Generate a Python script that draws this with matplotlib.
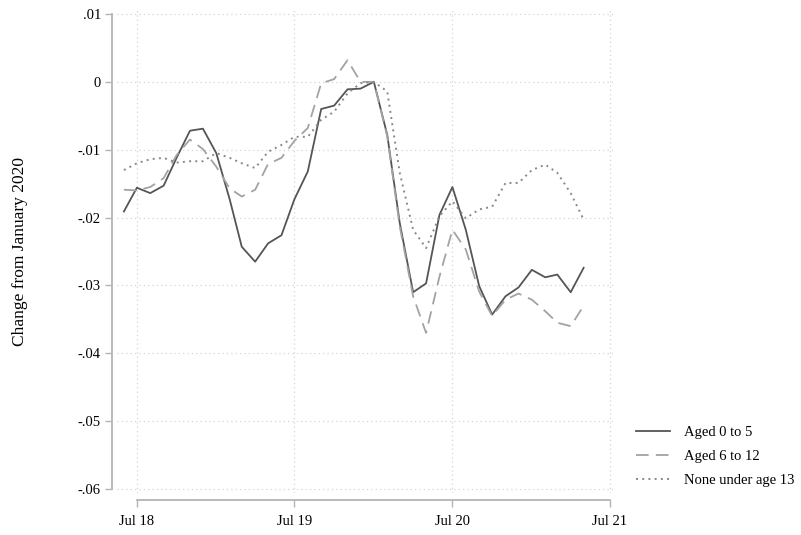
import matplotlib
matplotlib.use("Agg")
import matplotlib.pyplot as plt
import matplotlib.dates as mdates
import pandas as pd
import numpy as np

# Monthly series, June 2018 - May 2021, change relative to January 2020
months = pd.date_range("2018-06-01", periods=36, freq="MS")

aged_0_5 = [
    -0.0191, -0.0156, -0.0164, -0.0153, -0.0112, -0.0072, -0.0069,
    -0.0105, -0.0173, -0.0243, -0.0265, -0.0238, -0.0226, -0.0173,
    -0.0132, -0.0040, -0.0035, -0.0011, -0.0010, 0.0000, -0.0078,
    -0.0208, -0.0310, -0.0297, -0.0196, -0.0155, -0.0218, -0.0301,
    -0.0343, -0.0316, -0.0303, -0.0277, -0.0288, -0.0284, -0.0310,
    -0.0274,
]
aged_6_12 = [
    -0.0159, -0.0160, -0.0155, -0.0142, -0.0108, -0.0085, -0.0099,
    -0.0125, -0.0157, -0.0169, -0.0159, -0.0121, -0.0112, -0.0087,
    -0.0068, -0.0002, 0.0004, 0.0032, 0.0000, 0.0000, -0.0080,
    -0.0213, -0.0316, -0.0370, -0.0287, -0.0218, -0.0247, -0.0309,
    -0.0345, -0.0321, -0.0312, -0.0321, -0.0338, -0.0355, -0.0360,
    -0.0330,
]
none_under_13 = [
    -0.0130, -0.0120, -0.0114, -0.0112, -0.0119, -0.0117, -0.0117,
    -0.0105, -0.0112, -0.0120, -0.0127, -0.0103, -0.0093, -0.0081,
    -0.0081, -0.0056, -0.0044, -0.0017, -0.0002, 0.0000, -0.0014,
    -0.0134, -0.0218, -0.0245, -0.0198, -0.0176, -0.0201, -0.0188,
    -0.0184, -0.0149, -0.0149, -0.0130, -0.0122, -0.0134, -0.0164,
    -0.0203,
]

series_labels = ["Aged 0 to 5", "Aged 6 to 12", "None under age 13"]
y_ticks = [0.01, 0.0, -0.01, -0.02, -0.03, -0.04, -0.05, -0.06]
y_tick_labels = [".01", "0", "-.01", "-.02", "-.03", "-.04", "-.05", "-.06"]
x_ticks = pd.to_datetime(["2018-07-01", "2019-07-01", "2020-07-01", "2021-07-01"])
x_tick_labels = ["Jul 18", "Jul 19", "Jul 20", "Jul 21"]

plt.rcParams["font.family"] = ["Liberation Serif", "DejaVu Serif"]

fig = plt.figure(figsize=(8.01, 5.35), dpi=100)
ax = fig.add_axes([117 / 801, 42 / 535, 496 / 801, 483 / 535])

ax.plot(months, aged_0_5, color="#555555", lw=1.3, ls="-", label=series_labels[0])
ax.plot(months, aged_6_12, color="#a3a3a3", lw=1.3, ls=(0, (7, 4)), label=series_labels[1])
ax.plot(months, none_under_13, color="#888888", lw=1.4, ls=(0, (1, 2.2)), label=series_labels[2])

ax.set_xlim(pd.Timestamp("2018-05-16"), pd.Timestamp("2021-07-08"))
ax.set_ylim(-0.06059, 0.01059)

ax.set_yticks(y_ticks)
ax.set_yticklabels(y_tick_labels)
ax.set_xticks(x_ticks)
ax.set_xticklabels(x_tick_labels)

ax.grid(True, color="#d4d4d4", ls=(0, (1, 2.5)), lw=0.9)
ax.set_axisbelow(True)

for side in ("top", "right"):
    ax.spines[side].set_visible(False)
spine_col = "#b4b4b4"
ax.spines["left"].set_position(("outward", 3.6))
ax.spines["left"].set_bounds(-0.06, 0.01)
ax.spines["bottom"].set_position(("outward", 5.0))
ax.spines["bottom"].set_bounds(mdates.date2num(x_ticks[0]), mdates.date2num(x_ticks[-1]))
for side in ("left", "bottom"):
    ax.spines[side].set_color(spine_col)
    ax.spines[side].set_linewidth(1.3)

ax.tick_params(axis="both", colors=spine_col, labelcolor="black",
               labelsize=10.5, length=5, width=1.0, pad=3)
ax.tick_params(axis="x", pad=6)

ax.set_ylabel("Change from January 2020", fontsize=12.5, labelpad=36)

leg = ax.legend(loc="upper left", bbox_to_anchor=(1.035, 0.151), frameon=False,
                fontsize=10.5, handlelength=2.3, handletextpad=1.0,
                labelspacing=0.75, borderaxespad=0)

fig.savefig("out.png", dpi=100)
